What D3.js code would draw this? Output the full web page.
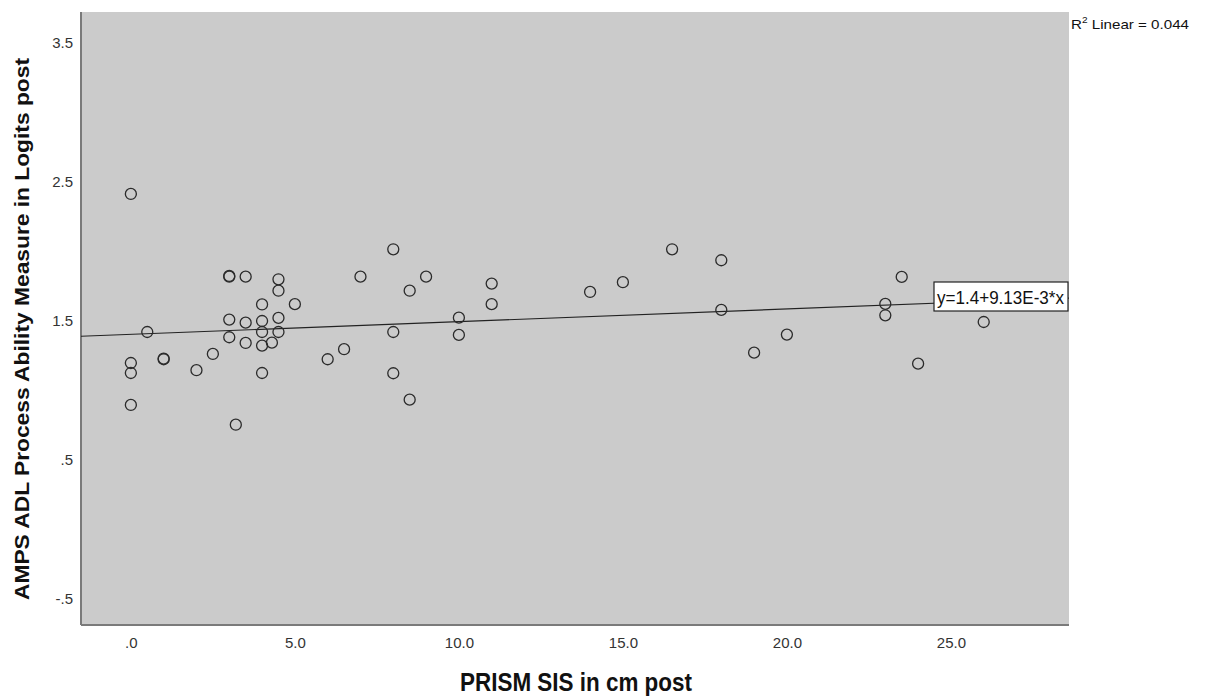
<!DOCTYPE html>
<html>
<head>
<meta charset="utf-8">
<script src="https://cdn.jsdelivr.net/npm/d3@7"></script>
<style>
  html, body { margin: 0; padding: 0; background: #fff; }
  svg { display: block; font-family: "Liberation Sans", Arial, sans-serif; }
</style>
</head>
<body>
<svg id="chart" width="1206" height="697"></svg>
<script>
const xValues = [0,0,0,0,0.5,1,1,2,2.5,3,3,3,3,3.2,3.5,3.5,3.5,4,4,4,4,4,4.3,4.5,4.5,4.5,4.5,5,6,6.5,7,8,8,8,8.5,8.5,9,10,10,11,11,14,15,16.5,18,18,19,20,23,23,23.5,24,26];
const yValues = [2.41,1.194,1.122,0.892,1.417,1.221,1.226,1.142,1.259,1.815,1.82,1.506,1.379,0.75,1.815,1.484,1.338,1.615,1.496,1.417,1.319,1.122,1.34,1.796,1.714,1.518,1.417,1.617,1.221,1.293,1.815,2.012,1.417,1.12,1.714,0.93,1.815,1.52,1.396,1.765,1.617,1.705,1.775,2.012,1.933,1.576,1.268,1.398,1.619,1.537,1.813,1.189,1.489];
const xTicks = [0,5,10,15,20,25];
const xTickLabels = [".0","5.0","10.0","15.0","20.0","25.0"];
const yTicks = [-0.5,0.5,1.5,2.5,3.5];
const yTickLabels = ["-.5",".5","1.5","2.5","3.5"];
const fitIntercept = 1.4;
const fitSlope = 9.13e-3;
const fitLabel = "y=1.4+9.13E-3*x";
const r2Text = "0.044";
const xTitle = "PRISM SIS in cm post";
const yTitle = "AMPS ADL Process Ability Measure in Logits post";

const svg = d3.select("#chart");
const L = 81, R = 1069, T = 12, B = 625;
const x = d3.scaleLinear().domain([-1.52, 28.6]).range([L, R]);
const y = d3.scaleLinear().domain([-0.691, 3.719]).range([B, T]);

svg.append("rect").attr("x", L).attr("y", T).attr("width", R - L).attr("height", B - T).attr("fill", "#cbcbcb");

// axes lines
svg.append("line").attr("x1", L).attr("x2", L).attr("y1", T).attr("y2", B).attr("stroke", "#7a7a7a").attr("stroke-width", 2);
svg.append("line").attr("x1", L).attr("x2", R).attr("y1", B).attr("y2", B).attr("stroke", "#7a7a7a").attr("stroke-width", 2);

// tick labels via axes (no tick marks)
const xAxis = d3.axisBottom(x).tickValues(xTicks).tickSize(0).tickPadding(12)
  .tickFormat((d, i) => xTickLabels[i]);
const gx = svg.append("g").attr("transform", `translate(0,${B})`).call(xAxis);
gx.select(".domain").remove();
gx.selectAll("text").attr("font-size", 15).attr("fill", "#333").attr("font-family", "Liberation Sans, Arial, sans-serif");

const yAxis = d3.axisLeft(y).tickValues(yTicks).tickSize(0).tickPadding(8)
  .tickFormat((d, i) => yTickLabels[i]);
const gy = svg.append("g").attr("transform", `translate(${L},0)`).call(yAxis);
gy.select(".domain").remove();
gy.selectAll("text").attr("font-size", 15).attr("fill", "#333").attr("font-family", "Liberation Sans, Arial, sans-serif");

// fit line
const x0 = x.domain()[0], x1 = x.domain()[1];
svg.append("line")
  .attr("x1", x(x0)).attr("y1", y(fitIntercept + fitSlope * x0))
  .attr("x2", x(x1)).attr("y2", y(fitIntercept + fitSlope * x1))
  .attr("stroke", "#222").attr("stroke-width", 1.2);

// points
svg.append("g").selectAll("circle").data(xValues.map((v, i) => [v, yValues[i]]))
  .join("circle")
  .attr("cx", d => x(d[0])).attr("cy", d => y(d[1])).attr("r", 5.5)
  .attr("fill", "none").attr("stroke", "#2b2b2b").attr("stroke-width", 1.3);

// fit label box
const g = svg.append("g");
const bx = 934, by = 282, bw = 134, bh = 29;
g.append("rect").attr("x", bx).attr("y", by).attr("width", bw).attr("height", bh)
  .attr("fill", "#fff").attr("stroke", "#222").attr("stroke-width", 1.2);
g.append("text").attr("x", bx + 3).attr("y", by + 22).attr("font-size", 18).attr("fill", "#111")
  .attr("textLength", bw - 7).attr("lengthAdjust", "spacingAndGlyphs")
  .text(fitLabel);

// R2 text
const rt = svg.append("text").attr("x", 1071).attr("y", 29).attr("font-size", 13.5).attr("fill", "#111")
  .attr("textLength", 118).attr("lengthAdjust", "spacingAndGlyphs");
rt.append("tspan").text("R");
rt.append("tspan").attr("font-size", 9).attr("dy", -6).text("2");
rt.append("tspan").attr("dy", 6).text(" Linear = " + r2Text);

// titles
svg.append("text").attr("x", 576).attr("y", 691).attr("text-anchor", "middle")
  .attr("font-size", 25).attr("font-weight", "bold").attr("fill", "#111")
  .attr("textLength", 232).attr("lengthAdjust", "spacingAndGlyphs").text(xTitle);
svg.append("text").attr("transform", `translate(29,329) rotate(-90)`).attr("text-anchor", "middle")
  .attr("font-size", 20).attr("font-weight", "bold").attr("fill", "#111")
  .attr("textLength", 542).attr("lengthAdjust", "spacingAndGlyphs").text(yTitle);
</script>
</body>
</html>
